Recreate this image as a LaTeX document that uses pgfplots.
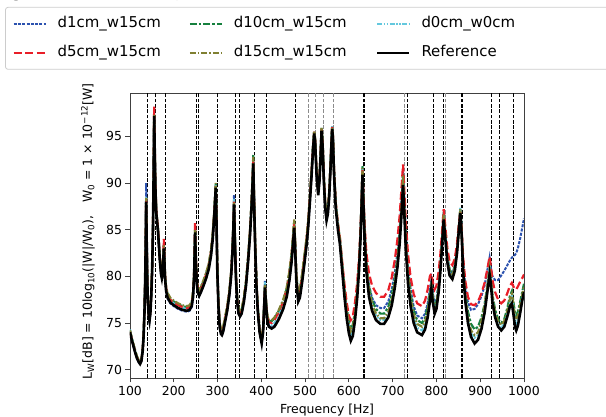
\documentclass[border=0pt]{standalone}
\usepackage{fontspec}
\setmainfont{DejaVu Sans}
\newfontfamily\docserif{Liberation Serif}
\usepackage{pgfplots}
\usepackage{pgfplotstable}
\pgfplotsset{compat=1.18}

\definecolor{cA}{RGB}{44,82,175}
\definecolor{cB}{RGB}{232,30,40}
\definecolor{cC}{RGB}{22,128,62}
\definecolor{cD}{RGB}{128,128,50}
\definecolor{cE}{RGB}{100,200,222}

% f, Reference, d1cm, d5cm, d10cm, d15cm, d0cm  (L_W in dB)
\pgfplotstableread{
f ref d1 d5 d10 d15 d0
100 74.0 74.0 74.1 74.2 74.2 74.3
104 73.2 73.2 73.3 73.4 73.4 73.3
108 72.5 72.5 72.6 72.7 72.7 72.6
112 71.8 71.8 71.9 72.0 72.0 71.9
116 71.2 71.2 71.3 71.4 71.4 71.3
120 70.8 70.8 70.9 71.0 71.0 70.9
123 70.6 70.6 70.7 70.8 70.8 70.7
126 70.9 70.9 71.0 71.1 71.1 71.0
129 72.0 72.1 72.1 72.2 72.2 72.1
131 73.5 73.7 73.6 73.7 73.7 73.6
133 76.0 76.4 76.1 76.2 76.2 76.1
134.5 79.0 79.6 79.1 79.2 79.2 79.1
135.8 83.0 84.2 83.2 83.3 83.3 83.2
136.9 88.0 90.0 88.3 88.4 88.4 88.5
138.2 83.5 85.5 83.7 83.8 83.8 83.8
139.5 79.5 80.5 79.7 79.8 79.8 79.7
141 77.0 77.4 77.2 77.3 77.3 77.2
143 75.6 75.7 75.8 75.9 75.9 75.8
144.5 75.2 75.2 75.4 75.5 75.5 75.4
146.5 76.0 76.0 76.2 76.3 76.3 76.2
148.5 77.8 77.8 78.0 78.1 78.1 78.0
150.5 80.5 80.5 80.7 80.8 80.8 80.7
152.5 85.0 85.0 85.3 85.3 85.3 85.2
154 91.0 91.0 91.5 91.3 91.3 91.3
155.2 97.2 97.0 98.2 97.3 97.3 97.6
156.5 93.5 93.4 94.2 93.7 93.7 93.8
158 89.5 89.5 89.9 89.7 89.7 89.7
160 86.8 86.8 87.1 87.0 87.1 87.0
164 84.8 84.8 85.1 85.0 85.1 85.0
168 81.8 81.8 82.1 82.1 82.2 82.0
171 80.2 80.2 80.5 80.5 80.6 80.4
172.7 79.8 79.8 80.1 80.1 80.2 80.0
174.5 80.4 80.4 80.8 80.7 80.8 80.6
176 81.6 81.6 82.2 81.9 82.0 81.9
177.3 83.0 82.9 84.0 83.3 83.3 83.5
178.5 81.8 81.8 82.4 82.1 82.2 82.1
180 79.8 79.8 80.2 80.1 80.2 80.0
182.6 78.4 78.3 78.7 78.7 78.8 78.6
186 77.7 77.6 78.0 78.1 78.2 77.9
192 77.2 77.1 77.5 77.6 77.7 77.4
200 76.9 76.8 77.2 77.3 77.4 77.1
210 76.6 76.5 76.9 77.0 77.1 76.8
220 76.4 76.3 76.7 76.8 76.9 76.6
230 76.3 76.2 76.6 76.7 76.8 76.5
236 76.4 76.3 76.7 76.8 76.9 76.6
241 76.8 76.7 77.1 77.2 77.3 77.0
244 77.8 77.7 78.1 78.2 78.3 78.0
246.5 80.0 80.0 80.4 80.4 80.5 80.2
248.7 84.7 84.9 85.8 85.0 85.0 85.2
250.5 81.5 81.5 82.0 81.8 81.9 81.7
253 79.0 79.0 79.4 79.4 79.5 79.2
255.5 78.2 78.2 78.6 78.7 78.8 78.4
258 77.9 77.9 78.3 78.4 78.5 78.1
262 78.3 78.3 78.7 78.8 78.9 78.5
268 79.0 79.0 79.4 79.5 79.6 79.2
274 79.8 79.8 80.2 80.3 80.4 80.0
280 80.8 80.8 81.2 81.3 81.4 81.0
285 82.2 82.2 82.6 82.7 82.8 82.4
289 84.0 84.0 84.4 84.5 84.6 84.2
292.5 86.5 86.5 86.8 86.9 87.0 86.7
295.9 89.5 89.6 89.7 89.9 90.0 89.8
297.5 86.0 86.1 86.3 86.4 86.5 86.2
299.5 80.5 80.6 80.8 80.9 81.0 80.7
302 76.8 76.8 77.1 77.2 77.3 77.0
305 74.5 74.5 74.8 74.9 75.0 74.7
308 73.8 73.8 74.1 74.2 74.3 74.0
310 73.7 73.7 74.0 74.1 74.2 73.9
313 74.1 74.1 74.4 74.5 74.6 74.3
317 75.1 75.1 75.4 75.5 75.6 75.3
322 76.3 76.3 76.6 76.7 76.8 76.5
327 78.0 78.1 78.3 78.4 78.5 78.2
331 80.0 80.2 80.3 80.4 80.5 80.2
334 82.5 82.9 82.8 82.9 83.0 82.8
336 85.0 85.7 85.3 85.4 85.4 85.4
337.6 87.7 88.7 88.0 88.0 88.0 88.3
339.5 84.0 84.6 84.3 84.4 84.4 84.3
342 79.8 80.0 80.1 80.2 80.3 80.0
345 77.2 77.2 77.5 77.6 77.7 77.4
348 76.0 76.0 76.3 76.4 76.5 76.2
351.3 75.7 75.7 76.0 76.1 76.2 75.9
355 76.0 76.0 76.3 76.4 76.5 76.2
360 77.2 77.2 77.5 77.6 77.7 77.4
365 79.0 79.0 79.3 79.4 79.5 79.2
370 81.7 81.7 82.0 82.1 82.2 81.9
374 84.3 84.3 84.6 84.7 84.8 84.5
377.5 87.3 87.3 87.6 87.8 87.8 87.5
380 90.0 90.0 90.3 90.7 90.6 90.2
381.6 92.1 92.2 92.4 93.0 92.8 92.5
383.2 88.5 88.6 88.8 89.1 89.0 88.8
386 83.0 83.1 83.3 83.5 83.5 83.2
389 78.8 78.9 79.1 79.2 79.3 79.0
392 76.2 76.3 76.5 76.6 76.7 76.4
396 74.0 74.1 74.3 74.4 74.5 74.2
400.8 72.8 72.9 73.1 73.2 73.3 73.0
404 74.0 74.2 74.3 74.3 74.4 74.2
406.3 76.5 77.0 76.8 76.8 76.8 76.8
408.3 78.8 79.5 79.0 79.1 79.1 79.4
410 77.5 78.0 77.8 77.9 77.9 77.9
413 75.5 75.7 75.9 76.0 76.0 75.7
417 74.6 74.7 75.1 75.2 75.3 74.9
423.6 74.4 74.5 75.0 75.2 75.3 74.8
430 74.6 74.7 75.3 75.5 75.6 75.0
440 75.4 75.5 76.2 76.3 76.4 75.8
450 76.5 76.6 77.3 77.4 77.5 76.9
458 77.8 77.9 78.6 78.7 78.8 78.2
464 79.5 79.6 80.3 80.4 80.5 79.9
469 81.5 81.6 82.2 82.3 82.4 81.9
472.5 83.5 83.6 84.1 84.3 84.4 83.9
475.1 85.2 85.4 85.7 85.9 86.1 85.6
477 83.3 83.5 83.8 84.0 84.1 83.7
480 79.5 79.7 80.0 80.2 80.3 79.9
484.3 77.3 77.4 77.8 78.0 78.1 77.6
488 77.7 77.8 78.3 78.5 78.6 78.0
493 79.3 79.4 79.9 80.1 80.2 79.6
498 81.2 81.3 81.8 82.0 82.1 81.5
503 83.2 83.3 83.8 83.9 84.0 83.5
507.1 85.3 85.4 85.8 85.9 86.0 85.6
511 88.0 88.1 88.5 88.6 88.7 88.3
515 91.0 91.1 91.4 91.5 91.5 91.2
518 93.5 93.6 93.8 93.9 93.9 93.7
520.8 95.3 95.4 95.5 95.6 95.6 95.5
523 94.3 94.4 94.6 94.7 94.7 94.5
526 91.0 91.1 91.4 91.5 91.5 91.2
529.9 88.7 88.8 89.1 89.2 89.3 88.9
533 90.3 90.4 90.7 90.8 90.8 90.5
535.5 93.0 93.1 93.3 93.4 93.4 93.2
537.6 95.6 95.7 95.8 95.9 95.9 95.8
540 94.0 94.1 94.3 94.4 94.4 94.2
543 90.0 90.1 90.4 90.5 90.5 90.2
546 87.3 87.4 87.7 87.8 87.9 87.5
549 86.0 86.1 86.4 86.5 86.6 86.2
552 86.7 86.8 87.1 87.2 87.3 86.9
555 88.5 88.6 88.9 89.0 89.1 88.7
558 91.5 91.6 91.8 91.9 92.0 91.7
560 94.0 94.1 94.3 94.4 94.4 94.2
561.8 95.8 95.9 96.0 96.1 96.0 96.1
563.5 94.8 95.0 95.1 95.2 95.1 95.1
566 91.0 91.3 91.5 91.5 91.4 91.3
570 87.3 87.6 87.9 87.9 87.8 87.6
575 85.0 85.3 85.6 85.6 85.5 85.3
579.4 83.5 83.8 84.2 84.1 84.0 83.8
585 80.5 80.9 81.4 81.2 81.0 80.8
590 77.8 78.4 79.1 78.7 78.5 78.2
595 75.5 76.2 77.2 76.6 76.3 76.0
600 73.9 74.7 75.8 75.1 74.9 74.5
604.4 73.1 73.9 75.3 74.4 74.1 73.7
609 73.6 74.3 75.7 74.8 74.5 74.1
614 75.3 75.9 77.2 76.3 76.0 75.7
619 77.7 78.2 79.3 78.5 78.3 78.0
623 80.5 80.9 81.8 81.2 81.0 80.8
626.5 84.0 84.4 85.0 84.7 84.5 84.3
629 87.5 87.9 88.2 88.3 88.1 87.9
631.1 90.9 91.3 91.4 91.8 91.6 91.5
633 88.0 88.6 89.0 88.9 88.7 88.5
636 84.0 84.8 85.4 85.0 84.7 84.5
640 80.5 81.5 82.5 81.5 81.2 81.0
646 77.8 79.0 80.3 78.9 78.6 78.4
653 76.3 77.7 79.0 77.4 77.0 76.8
662 75.3 76.9 78.2 76.5 76.0 75.8
672 74.9 76.6 77.8 76.0 75.5 75.3
680.4 74.9 76.6 77.8 76.0 75.5 75.3
690 75.6 77.3 78.5 76.7 76.2 76.0
698 76.9 78.6 79.9 78.0 77.5 77.3
705 78.8 80.4 81.8 79.8 79.4 79.2
711 81.0 82.6 84.0 82.0 81.6 81.4
716 83.5 85.0 86.5 84.5 84.1 83.9
720 86.5 88.0 89.3 87.5 87.2 86.9
723.7 89.8 91.2 92.0 91.0 90.8 90.5
726 87.5 89.0 89.9 88.6 88.4 88.1
730 83.0 84.8 85.9 84.2 83.9 83.6
735 79.3 81.1 82.4 80.6 80.2 79.9
741 76.8 78.6 79.9 78.1 77.7 77.3
748 75.0 76.8 78.1 76.3 75.9 75.5
756 74.0 75.8 77.1 75.3 74.9 74.5
767 73.7 75.5 76.8 75.0 74.6 74.2
774 74.3 76.0 77.4 75.5 75.1 74.8
780 75.6 77.1 78.6 76.7 76.3 76.0
785 77.3 78.6 80.0 78.2 77.9 77.7
788.5 78.7 79.6 80.3 79.2 79.0 78.9
791.5 77.3 78.3 79.4 78.0 77.7 77.6
796 76.0 77.0 78.6 76.8 76.5 76.3
800 76.5 77.5 79.0 77.3 77.0 76.8
805 78.3 79.2 80.5 79.0 78.8 78.6
809 80.5 81.3 82.4 81.1 80.9 80.8
812.5 83.0 83.7 84.6 83.6 83.4 83.3
816.5 86.1 86.7 87.2 86.9 86.6 86.5
820 84.2 84.8 85.5 84.8 84.6 84.5
825 81.5 82.1 83.0 82.1 81.9 81.8
830 80.1 80.7 81.6 80.7 80.5 80.4
836.4 79.7 80.3 81.2 80.3 80.1 80.0
842 80.6 81.1 81.9 81.1 80.9 80.9
847 82.5 82.9 83.5 82.9 82.8 82.8
851 84.8 85.1 85.5 85.2 85.1 85.2
854.6 86.8 87.0 87.0 87.2 87.2 87.4
857.5 84.5 85.0 85.2 85.0 84.9 85.3
861 80.5 81.5 82.0 81.2 80.9 80.9
866 77.3 78.9 79.5 78.2 77.8 77.6
872 75.0 77.2 77.8 76.2 75.6 75.3
879 73.5 76.4 77.0 74.9 74.2 73.9
887.2 72.8 76.5 76.9 74.3 73.7 73.4
895 73.2 77.0 77.3 74.6 74.0 73.7
903 74.4 77.9 78.2 75.6 75.2 74.8
910 76.1 79.0 79.3 77.0 76.8 76.5
916 78.2 80.6 80.7 78.8 78.8 78.6
921.4 80.2 82.0 82.1 81.0 80.8 81.3
924 79.3 81.0 81.2 80.0 79.8 80.0
928 77.2 80.0 79.6 78.0 77.8 77.6
934 75.6 79.6 78.3 76.4 76.1 75.9
941 74.6 79.6 77.5 75.4 75.1 74.9
948.1 74.2 80.1 77.1 75.0 74.8 74.5
955 74.6 80.6 77.4 75.4 75.2 74.9
962 75.7 81.2 78.2 76.6 76.3 76.0
968 76.8 81.7 79.0 77.9 77.6 77.3
972.3 77.1 82.0 79.3 78.4 78.1 77.9
976 75.9 82.2 78.9 77.2 76.9 76.6
979.5 74.6 82.3 78.6 76.0 75.6 75.3
982.3 74.2 82.5 78.6 75.8 75.4 75.0
986 74.7 83.0 78.9 76.2 75.8 75.4
991 76.0 84.0 79.4 77.2 76.9 76.6
996 77.4 85.2 79.8 78.3 78.0 77.8
1000 78.3 86.2 80.2 79.2 78.9 78.6
}\spl

\begin{document}
\begin{tikzpicture}
\useasboundingbox (-130bp,-39bp) rectangle (476bp,378bp);
\node[anchor=base west,inner sep=0pt,font=\docserif\fontsize{20}{22}\selectfont] at (-131bp,381bp) {figure as d0cm\_w0cm).};
\begin{axis}[
  scale only axis, width=394bp, height=285bp,
  at={(0,0)}, anchor=south west,
  xmin=100, xmax=1000, ymin=69.1, ymax=99.65,
  xtick={100,200,...,1000}, ytick={70,75,...,95},
  tick align=outside, tick pos=left, major tick length=4.5bp,
  axis line style={black!75,line width=0.8bp},
  tick style={black!75,line width=0.8bp},
  /pgf/number format/assume math mode=true,
  /pgf/number format/set thousands separator={},
  ticklabel style={font=\fontsize{12.5}{14}\selectfont},
  label style={font=\fontsize{12.5}{14}\selectfont},
  xlabel={Frequency [Hz]},
  xlabel style={at={(axis description cs:0.5,-0.112)},anchor=center},
  ylabel={L\textsubscript{W}[dB] = 10log\textsubscript{10}(|W|/W\textsubscript{0}),\quad W\textsubscript{0} = 1 × 10\textsuperscript{−12}[W]},
  ylabel style={at={(axis description cs:-0.1066,0.515)},anchor=center},
  legend columns=3,
  legend cell align=left,
  legend image code/.code={\draw[#1] (0bp,0bp) -- (32bp,0bp); \path (43bp,0bp);},
  legend style={at={(axis description cs:-0.317,1.302)},anchor=north west,
    draw=black!20, rounded corners=2.5bp, line width=0.8bp,
    inner xsep=7bp, inner ysep=2bp, column sep=0bp, row sep=0bp,
    font=\fontsize{15}{17}\selectfont,
    nodes={text height=11bp,text depth=3bp,inner ysep=7.5bp,inner xsep=0bp},
    /tikz/column 2/.style={text width=131bp},
    /tikz/column 4/.style={text width=142bp},
    /tikz/column 6/.style={text width=200bp}},
]
\pgfplotsinvokeforeach{139.9,158.2,181,251.7,257.1,299.5,340.6,349.7,383.9,411.3,477.4,634.1,636,732.8,792.1,814.9,857.4,858.8,925.3,944.9,976.9}{
  \addplot[black,line width=0.8bp,dash pattern=on 3.7bp off 1.6bp,forget plot] coordinates {(#1,69.1) (#1,99.65)};
}
\pgfplotsinvokeforeach{508,523.9,541.3,565,727.6,821.1}{
  \addplot[black!45,line width=0.8bp,dash pattern=on 3.7bp off 1.6bp,forget plot] coordinates {(#1,69.1) (#1,99.65)};
}
\addplot[cA,line width=2bp,dash pattern=on 3bp off 1.3bp] table[x=f,y=d1] {\spl};
\addlegendentry{d1cm\_w15cm}
\addplot[cC,line width=2.2bp,dash pattern=on 7bp off 2bp on 2.5bp off 2bp] table[x=f,y=d10] {\spl};
\addlegendentry{d10cm\_w15cm}
\addplot[cE,line width=2bp,dash pattern=on 5bp off 1.5bp on 1.5bp off 1.5bp on 1.5bp off 1.5bp] table[x=f,y=d0] {\spl};
\addlegendentry{d0cm\_w0cm}
\addplot[cB,line width=2.2bp,dash pattern=on 8bp off 3.5bp] table[x=f,y=d5] {\spl};
\addlegendentry{d5cm\_w15cm}
\addplot[cD,line width=2.2bp,dash pattern=on 6bp off 2bp on 1.5bp off 2bp] table[x=f,y=d15] {\spl};
\addlegendentry{d15cm\_w15cm}
\addplot[black,line width=2.6bp] table[x=f,y=ref] {\spl};
\addlegendentry{Reference}
\end{axis}
\end{tikzpicture}
\end{document}
